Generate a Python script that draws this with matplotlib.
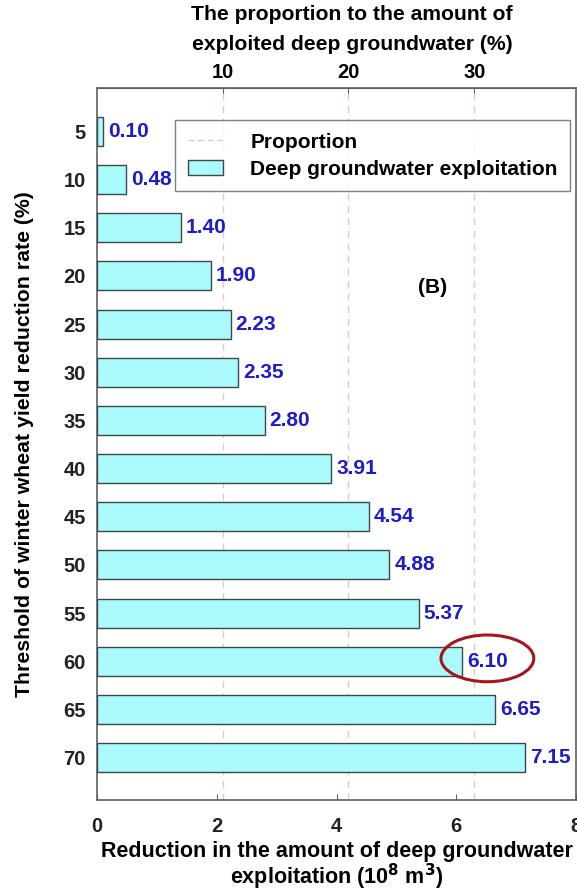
"""Deep groundwater exploitation reduction vs. wheat yield threshold, panel (B)."""

import matplotlib

matplotlib.use("Agg")  # headless
import matplotlib.pyplot as plt
from matplotlib.patches import Ellipse
from matplotlib.lines import Line2D
from matplotlib.patches import Patch
import numpy as np

plt.rcParams["font.family"] = ["Liberation Sans", "DejaVu Sans"]
plt.rcParams["font.weight"] = "bold"

# ---- Data ----
thresholds = [5, 10, 15, 20, 25, 30, 35, 40, 45, 50, 55, 60, 65, 70]
reduction = [0.10, 0.48, 1.40, 1.90, 2.23, 2.35, 2.80, 3.91, 4.54, 4.88, 5.37, 6.10, 6.65, 7.15]
total_exploited = 21.0          # 10^8 m3, sets the % scale on the top axis
proportion_ticks = [10, 20, 30]
bottom_ticks = [0, 2, 4, 6, 8]
highlight = 60

BAR_FACE = "#aaf9fc"
BAR_EDGE = "#3a4a4a"
LABEL_BLUE = "#1c1ccc"
GRID_PINK = "#e6c4c8"
FRAME = "#606060"

fig = plt.figure(figsize=(5.77, 8.90), dpi=100)
ax = fig.add_axes([97 / 577, 90 / 890, 479 / 577, 712 / 890])

ypos = np.arange(len(thresholds))
ax.barh(ypos, reduction, height=0.6, color=BAR_FACE, edgecolor=BAR_EDGE, linewidth=1.0, zorder=3)

for y, v in zip(ypos, reduction):
    ax.text(v + 0.085, y, f"{v:.2f}", va="center", ha="left", color=LABEL_BLUE,
            fontsize=15, fontweight="bold", zorder=4)

# proportion gridlines (dashed) at the top-axis positions
for p in proportion_ticks:
    ax.axvline(p / 100 * total_exploited, color=GRID_PINK, linestyle=(0, (5, 4)), linewidth=1.0, zorder=1)

ax.set_xlim(0, 8)
ax.set_ylim(len(thresholds) - 1 + 0.88, -0.9)
ax.set_yticks(ypos)
ax.set_yticklabels([str(t) for t in thresholds])
ax.set_xticks(bottom_ticks)
ax.tick_params(axis="both", direction="in", labelsize=14.5, colors="#222222")
ax.tick_params(axis="x", pad=12, length=4, color=FRAME)
ax.tick_params(axis="y", pad=8, length=4, color=FRAME)
for lab in ax.get_xticklabels() + ax.get_yticklabels():
    lab.set_fontweight("bold")
for s in ax.spines.values():
    s.set_color(FRAME)
    s.set_linewidth(1.2)

ax.set_xlabel("Reduction in the amount of deep groundwater\nexploitation (10$^{8}$ m$^{3}$)",
              fontsize=15.5, fontweight="bold", labelpad=4, linespacing=1.0)
ax.set_ylabel("Threshold of winter wheat yield reduction rate (%)",
              fontsize=15.3, fontweight="bold", labelpad=21)

# top axis: proportion of exploited deep groundwater
top = ax.secondary_xaxis("top", functions=(lambda x: x / total_exploited * 100,
                                           lambda p: p / 100 * total_exploited))
top.set_xticks(proportion_ticks)
top.tick_params(direction="in", labelsize=14.5, pad=4, length=4, color=FRAME)
for lab in top.get_xticklabels():
    lab.set_fontweight("bold")
top.spines["top"].set_color(FRAME)
# top title sits slightly right of the axes centre, as in the source figure
fig.text(352 / 577, 1 - 15 / 890, "The proportion to the amount of",
         fontsize=15.2, fontweight="bold", ha="center", va="center")
fig.text(352 / 577, 1 - 45 / 890, "exploited deep groundwater (%)",
         fontsize=15.2, fontweight="bold", ha="center", va="center")

ax.text(5.6, 3.25, "(B)", fontsize=15, fontweight="bold", ha="center", va="center")

# highlight ring around the 60 % bar label
hi = thresholds.index(highlight)
ax.add_patch(Ellipse((6.52, hi - 0.06), 1.55, 0.97, fill=False, edgecolor="#a8141c",
                     linewidth=2.2, zorder=5, clip_on=False))

handles = [Line2D([0], [0], color=GRID_PINK, linestyle=(0, (4, 3)), linewidth=1.0),
           Patch(facecolor=BAR_FACE, edgecolor=BAR_EDGE, linewidth=1.0)]
leg = ax.legend(handles, ["Proportion", "Deep groundwater exploitation"],
                loc="upper right", bbox_to_anchor=(0.988, 0.955), borderaxespad=0,
                fontsize=15, frameon=True, fancybox=False, edgecolor=FRAME, borderpad=0.6,
                handlelength=1.7, handletextpad=1.3, labelspacing=0.4)
leg.get_frame().set_linewidth(1.0)

fig.savefig("out.png", dpi=100)
